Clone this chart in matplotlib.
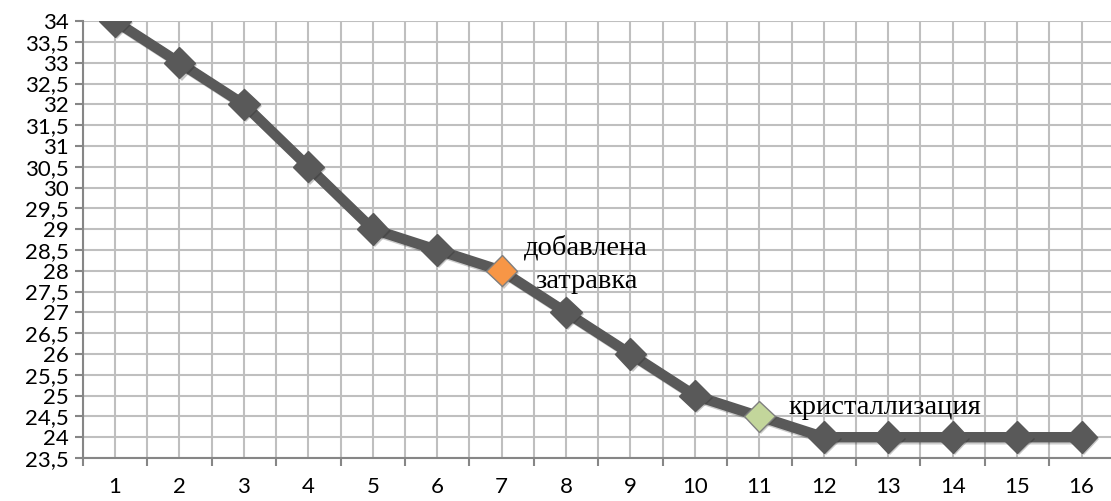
import numpy as np
import matplotlib.pyplot as plt
from matplotlib.ticker import MultipleLocator, FuncFormatter
import matplotlib.patheffects as pe

# temperature readings per measurement
steps = list(range(1, 17))
temps = [34, 33, 32, 30.5, 29, 28.5, 28, 27, 26, 25, 24.5, 24, 24, 24, 24, 24]
seed_idx = 6      # point 7: seed added
cryst_idx = 10    # point 11: crystallization
seed_label = "добавлена\nзатравка"
cryst_label = "кристаллизация"

fig = plt.figure(figsize=(11.11, 5.01), dpi=100)
ax = fig.add_axes([0.0745, 0.0858, 0.928, 0.872])

line_col = "#595959"
grid_col = "#BFBFBF"
axis_col = "#868686"

ax.plot(steps, temps, color=line_col, lw=7.5, solid_joinstyle="round", zorder=3,
        path_effects=[pe.SimpleLineShadow(offset=(1.5, -1.5), alpha=0.2), pe.Normal()])

cols = [line_col] * len(steps)
edges = [line_col] * len(steps)
cols[seed_idx] = "#F79646"
edges[seed_idx] = "#7F7F7F"
cols[cryst_idx] = "#C3D69B"
edges[cryst_idx] = "#7F7F7F"
for x, y, c, e in zip(steps, temps, cols, edges):
    ax.plot(x, y, marker="D", ms=16, mfc=c, mec=e, mew=1.0, zorder=4,
            path_effects=[pe.SimplePatchShadow(offset=(1.5, -1.5), alpha=0.25), pe.Normal()])

ax.text(8.31, 28.15, seed_label, ha="center", va="center", fontsize=20.5,
        family="Liberation Serif", linespacing=1.4, zorder=5)
ax.text(12.95, 24.72, cryst_label, ha="center", va="center", fontsize=20.5,
        family="Liberation Serif", zorder=5)

ax.set_xlim(0.5, 16.5)
ax.set_ylim(23.5, 34)

ax.xaxis.set_major_locator(MultipleLocator(1))
ax.xaxis.set_minor_locator(MultipleLocator(1, offset=0.5))
ax.yaxis.set_major_locator(MultipleLocator(0.5))
ax.yaxis.set_major_formatter(FuncFormatter(lambda v, p: ("%g" % v).replace(".", ",")))

ax.grid(True, which="both", axis="x", color=grid_col, lw=1.5, zorder=0)
ax.grid(True, which="major", axis="y", color=grid_col, lw=1.5, zorder=0)
ax.set_axisbelow(True)

for s in ["top", "right"]:
    ax.spines[s].set_visible(False)
for s in ["left", "bottom"]:
    ax.spines[s].set_color(axis_col)
    ax.spines[s].set_linewidth(1.5)

ax.tick_params(axis="x", which="major", length=0, pad=14, labelsize=16)
ax.tick_params(axis="x", which="minor", length=6, width=1.5, color=axis_col)
ax.tick_params(axis="y", which="major", length=6, width=1.5, color=axis_col,
               pad=4, labelsize=16)
for lab in ax.get_xticklabels() + ax.get_yticklabels():
    lab.set_family("Lato")

fig.savefig("out.png", dpi=100)
